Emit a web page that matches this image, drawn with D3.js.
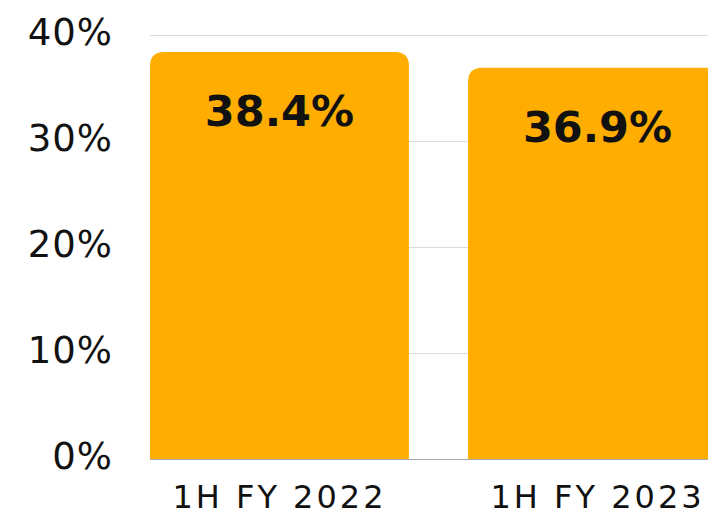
<!DOCTYPE html>
<html>
<head>
<meta charset="utf-8">
<script src="https://cdn.jsdelivr.net/npm/d3@7"></script>
<style>
  body { margin: 0; background: #fff; }
  svg { display: block; font-family: "DejaVu Sans", sans-serif; }
</style>
</head>
<body>
<div id="chart"></div>
<script>
var periods = ["1H FY 2022", "1H FY 2023"]
var margins = [38.4, 36.9]
var ticks = [0, 10, 20, 30, 40]

var w = 708
var h = 519

var x = d3.scaleBand().domain(periods).range([150, 727]).paddingInner(0.186).paddingOuter(0)
var y = d3.scaleLinear().domain([0, 40]).range([459, 35])

var svg = d3.select("#chart").append("svg")
  .attr("width", w)
  .attr("height", h)

// grid
svg.append("g")
  .selectAll("line")
  .data(ticks)
  .join("line")
  .attr("x1", 150)
  .attr("x2", w)
  .attr("y1", d => y(d) + 0.5)
  .attr("y2", d => y(d) + 0.5)
  .attr("stroke", d => d == 0 ? "#a8a8a8" : "#dcdcdc")
  .attr("stroke-width", 1)

// y labels
svg.append("g")
  .selectAll("text")
  .data(ticks)
  .join("text")
  .attr("x", 113)
  .attr("y", d => y(d) + 10)
  .attr("text-anchor", "end")
  .attr("font-size", 37)
  .attr("letter-spacing", 1)
  .attr("fill", "#111")
  .text(d => d + "%")

// bars with rounded top corners
var r = 14
function barPath(d, i) {
  var x0 = x(periods[i]), x1 = x0 + x.bandwidth()
  var y0 = y(0), y1 = y(d)
  return "M" + x0 + "," + y0 +
    "V" + (y1 + r) +
    "Q" + x0 + "," + y1 + " " + (x0 + r) + "," + y1 +
    "H" + (x1 - r) +
    "Q" + x1 + "," + y1 + " " + x1 + "," + (y1 + r) +
    "V" + y0 + "Z"
}

svg.append("g")
  .selectAll("path")
  .data(margins)
  .join("path")
  .attr("d", barPath)
  .attr("fill", "#ffad00")

// value labels
svg.append("g")
  .selectAll("text")
  .data(margins)
  .join("text")
  .attr("x", (d, i) => x(periods[i]) + x.bandwidth() / 2)
  .attr("y", d => y(d) + 74)
  .attr("text-anchor", "middle")
  .attr("font-size", 43)
  .attr("font-weight", "bold")
  .attr("fill", "#111")
  .text(d => d.toFixed(1) + "%")

// x labels
svg.append("g")
  .selectAll("text")
  .data(periods)
  .join("text")
  .attr("x", d => x(d) + x.bandwidth() / 2)
  .attr("y", 508)
  .attr("text-anchor", "middle")
  .attr("font-size", 32)
  .attr("letter-spacing", 3)
  .attr("fill", "#111")
  .text(d => d)
</script>
</body>
</html>
